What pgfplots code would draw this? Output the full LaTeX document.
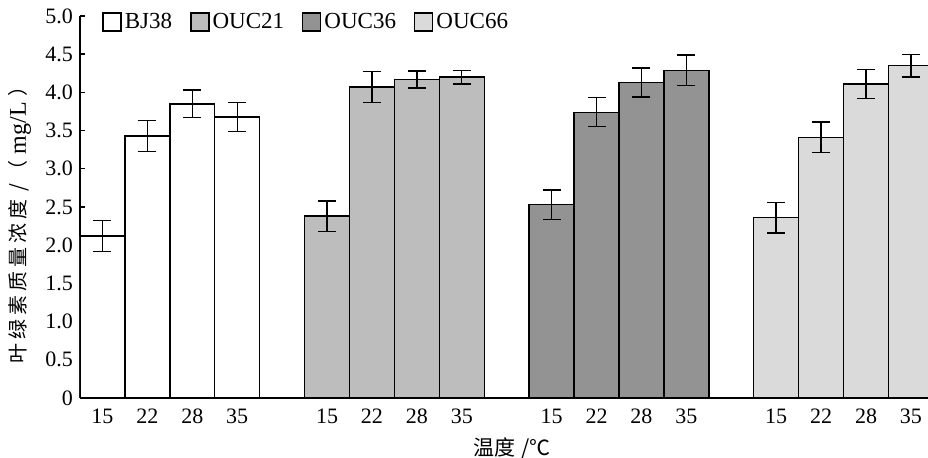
\documentclass[border=0pt]{standalone}
\usepackage{fontspec}
\setmainfont{Liberation Serif}
\newfontfamily\cjk{Noto Sans CJK SC}
\usepackage{pgfplots}
\usepackage{pgfplotstable}
\pgfplotsset{compat=1.18}
\definecolor{gA}{RGB}{189,189,189}
\definecolor{gB}{RGB}{147,147,147}
\definecolor{gC}{RGB}{218,218,218}

\pgfplotstableread{
x y e
0.5 2.12 0.20
1.5 3.43 0.20
2.5 3.85 0.18
3.5 3.68 0.19
}\bj
\pgfplotstableread{
x y e
5.5 2.38 0.20
6.5 4.07 0.20
7.5 4.17 0.11
8.5 4.20 0.09
}\oa
\pgfplotstableread{
x y e
10.5 2.53 0.19
11.5 3.74 0.19
12.5 4.13 0.19
13.5 4.29 0.20
}\ob
\pgfplotstableread{
x y e
15.5 2.36 0.20
16.5 3.41 0.20
17.5 4.11 0.19
18.5 4.35 0.15
}\oc

\pgfplotsset{eb/.style={/pgfplots/error bars/.cd, y dir=both, y explicit,
    error bar style={line width=0.7pt, black},
    error mark options={rotate=90, mark size=4.5pt, line width=0.7pt, black}}}
\newcommand{\ls}{\hspace{2pt}}

\begin{document}
\begin{tikzpicture}
\begin{axis}[
  at={(0,0)}, anchor=south west,
  scale only axis, width=424pt, height=191pt,
  xmin=0, xmax=18.88, ymin=0, ymax=5,
  axis x line=bottom, axis y line=left,
  axis line style={-, line width=0.7pt, black},
  ytick={0,0.5,1,1.5,2,2.5,3,3.5,4,4.5,5},
  yticklabels={0,0.5,1.0,1.5,2.0,2.5,3.0,3.5,4.0,4.5,5.0},
  xtick={0.5,1.5,2.5,3.5,5.5,6.5,7.5,8.5,10.5,11.5,12.5,13.5,15.5,16.5,17.5,18.5},
  xticklabels={15,22,28,35,15,22,28,35,15,22,28,35,15,22,28,35},
  x tick style={draw=none},
  y tick style={line width=0.7pt, black},
  tick align=inside, major tick length=2.5pt,
  ticklabel style={font=\fontsize{11}{12}\selectfont},
  xticklabel style={anchor=north, text height=7.5pt, text depth=0pt, inner sep=2.5pt},
  /pgf/number format/assume math mode=true,
  ybar, bar width=1, bar shift=0pt,
  ylabel={\cjk\fontsize{10}{11}\selectfont 叶\ls 绿\ls 素\ls 质\ls 量\ls 浓\ls 度\hspace{4pt}/\hspace{2pt}（\hspace{3pt}{\rmfamily\fontsize{12}{13}\selectfont mg/L}\hspace{3pt}）},
  ylabel style={at={(axis description cs:-0.0708,0.466)}, anchor=center},
  xlabel={\cjk\fontsize{10.5}{12}\selectfont 温度\hspace{3pt}/℃},
  xlabel style={at={(axis description cs:0.509,-0.131)}, anchor=center},
  legend columns=4,
  legend style={draw=none, fill=none, at={(axis description cs:0.026,0.984)}, anchor=west,
    inner sep=0pt, font=\fontsize{11.5}{13}\selectfont,
    nodes={inner sep=1.5pt},
    /tikz/every even column/.append style={column sep=7.5pt}},
  every axis plot/.append style={draw=black, line width=0.7pt},
  every axis plot post/.append style={legend image code/.code={\draw[draw=black, line width=0.7pt, ##1] (0pt,-4.5pt) rectangle (9pt,4.5pt);}},
]
\addplot[fill=white, eb] table[x=x, y=y, y error=e]{\bj};
\addlegendentry{BJ38}
\addplot[fill=gA, eb] table[x=x, y=y, y error=e]{\oa};
\addlegendentry{OUC21}
\addplot[fill=gB, eb] table[x=x, y=y, y error=e]{\ob};
\addlegendentry{OUC36}
\addplot[fill=gC, eb] table[x=x, y=y, y error=e]{\oc};
\addlegendentry{OUC66}
\end{axis}
\pgfresetboundingbox
\path (-40pt,-30pt) rectangle (424pt,199pt);
\end{tikzpicture}
\end{document}
